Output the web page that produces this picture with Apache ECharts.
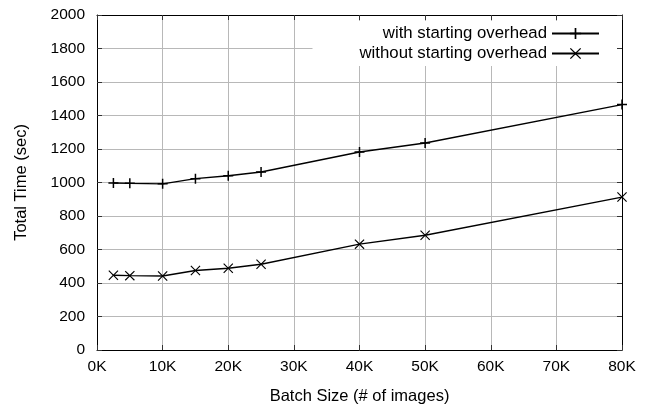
<!DOCTYPE html>
<html>
<head>
<meta charset="utf-8">
<script src="https://cdn.jsdelivr.net/npm/echarts@6/dist/echarts.min.js"></script>
<style>html,body{margin:0;padding:0;background:#fff;}#c{width:646px;height:411px;}</style>
</head>
<body>
<div id="c"></div>
<script>
const batchSizes = [2500, 5000, 10000, 15000, 20000, 25000, 40000, 50000, 80000];
const withOverhead = [997, 995, 992, 1023, 1040, 1063, 1182, 1236, 1465];
const withoutOverhead = [446, 444, 442, 475, 488, 512, 632, 685, 913];
const seriesNames = ['with starting overhead', 'without starting overhead'];
const xTitle = 'Batch Size (# of images)';
const yTitle = 'Total Time (sec)';

const plusPath = 'path://M8.5,0H11.5V8.5H20V11.5H11.5V20H8.5V11.5H0V8.5H8.5Z';
const crossPath = 'path://M0,1.6L1.6,0L10,8.4L18.4,0L20,1.6L11.6,10L20,18.4L18.4,20L10,11.6L1.6,20L0,18.4L8.4,10Z';

const font = 'Liberation Sans, Arial, Helvetica, sans-serif';
const chart = echarts.init(document.getElementById('c'), null, {renderer: 'canvas'});

const tickStyle = {show: true, inside: true, length: 5, lineStyle: {color: '#333', width: 1}};
const axisLineStyle = {show: true, onZero: false, lineStyle: {color: '#000', width: 1}};

function pairs(ys) { return batchSizes.map((x, i) => [x, ys[i]]); }

chart.setOption({
  animation: false,
  backgroundColor: '#fff',
  grid: {left: 97, right: 24, top: 15, bottom: 61, containLabel: false},
  xAxis: [{
    type: 'value', min: 0, max: 80000, interval: 10000,
    name: xTitle, nameLocation: 'middle', nameGap: 38,
    nameTextStyle: {fontFamily: font, fontSize: 16.5, color: '#000'},
    axisLine: axisLineStyle, axisTick: tickStyle,
    axisLabel: {fontFamily: font, fontSize: 15.5, color: '#000', margin: 9, formatter: v => (v / 1000) + 'K'},
    splitLine: {show: true, lineStyle: {color: '#b8b8b8', width: 1}}
  }, {
    type: 'value', position: 'top', min: 0, max: 80000, interval: 10000,
    axisLine: axisLineStyle, axisTick: tickStyle, axisLabel: {show: false}, splitLine: {show: false}
  }],
  yAxis: [{
    type: 'value', min: 0, max: 2000, interval: 200,
    name: yTitle, nameLocation: 'middle', nameGap: 67, nameRotate: 90,
    nameTextStyle: {fontFamily: font, fontSize: 16.5, color: '#000'},
    axisLine: axisLineStyle, axisTick: tickStyle,
    axisLabel: {fontFamily: font, fontSize: 15.5, color: '#000', margin: 12, formatter: v => String(v)},
    splitLine: {show: true, lineStyle: {color: '#b8b8b8', width: 1}}
  }, {
    type: 'value', position: 'right', min: 0, max: 2000, interval: 200,
    axisLine: axisLineStyle, axisTick: tickStyle, axisLabel: {show: false}, splitLine: {show: false}
  }],
  legend: {
    orient: 'vertical', right: 29, top: 21, align: 'right',
    backgroundColor: '#fff', padding: [4, 17, 4, 47], itemGap: 3,
    itemWidth: 47, itemHeight: 14,
    textStyle: {fontFamily: font, fontSize: 16.8, color: '#000'},
    data: seriesNames
  },
  series: [{
    name: seriesNames[0], type: 'line', data: pairs(withOverhead),
    symbol: plusPath, symbolSize: 10, showAllSymbol: true,
    lineStyle: {color: '#000', width: 1.4}, itemStyle: {color: '#000'}
  }, {
    name: seriesNames[1], type: 'line', data: pairs(withoutOverhead),
    symbol: crossPath, symbolSize: 10, showAllSymbol: true,
    lineStyle: {color: '#000', width: 1.4}, itemStyle: {color: '#000'}
  }]
});
</script>
</body>
</html>
